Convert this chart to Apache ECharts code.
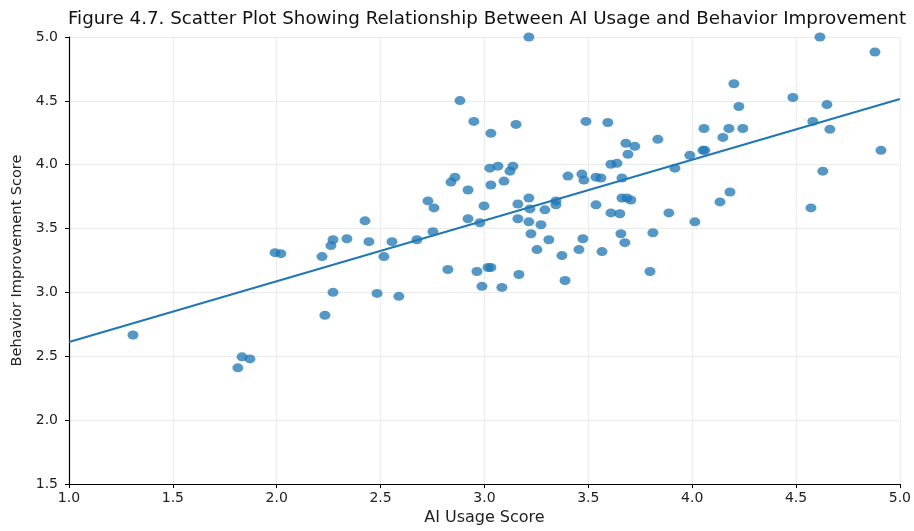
<!DOCTYPE html>
<html>
<head>
<meta charset="utf-8">
<script src="https://cdn.jsdelivr.net/npm/echarts@6/dist/echarts.min.js"></script>
<style>
  html, body { margin: 0; padding: 0; background: #ffffff; }
  #chart { width: 914px; height: 531px; }
</style>
</head>
<body>
<div id="chart"></div>
<script>
// AI usage score of each respondent
const aiUsage = [
  1.308, 1.813, 1.833, 1.871, 1.992, 2.020, 2.218, 2.232, 2.261, 2.271,
  2.271, 2.338, 2.425, 2.444, 2.483, 2.516, 2.555, 2.588, 2.675, 2.728,
  2.757, 2.752, 2.824, 2.839, 2.858, 2.882, 2.921, 2.921, 2.949, 2.964,
  2.978, 2.988, 2.998, 3.017, 3.031, 3.026, 3.031, 3.031, 3.065, 3.084,
  3.094, 3.123, 3.137, 3.152, 3.161, 3.161, 3.166, 3.214, 3.214, 3.219,
  3.214, 3.224, 3.253, 3.272, 3.291, 3.310, 3.344, 3.344, 3.373, 3.388,
  3.402, 3.455, 3.469, 3.474, 3.479, 3.489, 3.537, 3.537, 3.561, 3.566,
  3.594, 3.609, 3.609, 3.638, 3.652, 3.657, 3.662, 3.662, 3.676, 3.681,
  3.691, 3.686, 3.705, 3.724, 3.797, 3.811, 3.835, 3.888, 3.917, 3.989,
  4.013, 4.052, 4.057, 4.061, 4.134, 4.148, 4.182, 4.177, 4.201, 4.225,
  4.244, 4.485, 4.572, 4.581, 4.615, 4.629, 4.649, 4.663, 4.880, 4.909
];

// Behavior improvement score of the same respondents
const behaviorImprovement = [
  2.667, 2.410, 2.496, 2.480, 3.312, 3.304, 3.281, 2.822, 3.367, 3.413,
  3.001, 3.421, 3.561, 3.398, 2.993, 3.281, 3.398, 2.970, 3.413, 3.717,
  3.662, 3.476, 3.180, 3.864, 3.903, 4.502, 3.802, 3.577, 4.339, 3.164,
  3.546, 3.048, 3.678, 3.196, 3.196, 3.973, 4.246, 3.841, 3.989, 3.040,
  3.872, 3.950, 3.989, 4.316, 3.693, 3.577, 3.141, 5.000, 3.740, 3.654,
  3.553, 3.460, 3.336, 3.530, 3.647, 3.413, 3.717, 3.686, 3.289, 3.094,
  3.911, 3.336, 3.927, 3.421, 3.880, 4.339, 3.686, 3.903, 3.896, 3.320,
  4.331, 3.623, 4.004, 4.012, 3.616, 3.460, 3.896, 3.740, 3.390, 4.168,
  4.082, 3.740, 3.724, 4.144, 3.164, 3.468, 4.199, 3.623, 3.973, 4.074,
  3.553, 4.113, 4.284, 4.113, 3.709, 4.214, 3.787, 4.284, 4.634, 4.456,
  4.284, 4.526, 3.662, 4.339, 5.000, 3.950, 4.471, 4.277, 4.883, 4.113
];

// Fitted regression line, given by its two end points
const trendX = [1.0, 5.0];
const trendY = [2.612, 4.515];

// Axis ranges and tick steps
const xRange = [1.0, 5.0];
const yRange = [1.5, 5.0];
const xStep = 0.5;
const yStep = 0.5;

const titleText = 'Figure 4.7. Scatter Plot Showing Relationship Between AI Usage and Behavior Improvement';
const xName = 'AI Usage Score';
const yName = 'Behavior Improvement Score';

const points = aiUsage.map((x, i) => [x, behaviorImprovement[i]]);
const trend = trendX.map((x, i) => [x, trendY[i]]);

const font = 'DejaVu Sans';
const axisCommon = {
  axisLine: { show: true, onZero: false, lineStyle: { color: '#000', width: 1.2 } },
  axisTick: { show: true, inside: false, length: 4, lineStyle: { color: '#000', width: 1 } },
  splitLine: { show: true, lineStyle: { color: '#ebebeb', width: 1 } },
  nameLocation: 'middle'
};

const chart = echarts.init(document.getElementById('chart'), null, { renderer: 'canvas' });
chart.setOption({
  backgroundColor: '#ffffff',
  animation: false,
  title: {
    text: titleText,
    left: 482, textAlign: 'center', top: 5,
    textStyle: { fontFamily: font, fontSize: 18.3, fontWeight: 'normal', color: '#111' }
  },
  grid: { left: 69, right: 14, top: 37, bottom: 44, containLabel: false },
  xAxis: Object.assign({}, axisCommon, {
    type: 'value', min: xRange[0], max: xRange[1], interval: xStep,
    axisLabel: { color: '#222', fontFamily: font, fontSize: 14, margin: 7, formatter: v => v.toFixed(1) },
    name: xName, nameGap: 25,
    nameTextStyle: { color: '#222', fontFamily: font, fontSize: 16 }
  }),
  yAxis: Object.assign({}, axisCommon, {
    type: 'value', min: yRange[0], max: yRange[1], interval: yStep,
    axisLabel: { color: '#222', fontFamily: font, fontSize: 14, margin: 11, formatter: v => v.toFixed(1) },
    name: yName, nameGap: 42,
    nameTextStyle: { color: '#222', fontFamily: font, fontSize: 14.5 }
  }),
  series: [
    {
      type: 'scatter',
      data: points,
      symbol: 'circle',
      symbolSize: [11, 9],
      itemStyle: { color: 'rgba(31,119,180,0.95)' },
      z: 3
    },
    {
      type: 'line',
      data: trend,
      showSymbol: false,
      lineStyle: { color: '#1f77b4', width: 2 },
      z: 4
    }
  ]
});
</script>
</body>
</html>
